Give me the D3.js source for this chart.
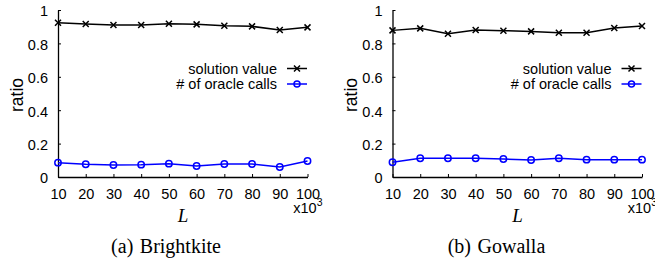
<!DOCTYPE html>
<html><head><meta charset="utf-8">
<script src="https://cdn.jsdelivr.net/npm/d3@7"></script>
<style>body{margin:0;background:#fff}svg{display:block}</style>
</head><body>
<svg id="c" width="655" height="263"></svg>
<script>
const Ls = [10, 20, 30, 40, 50, 60, 70, 80, 90, 100];
const yTicks = [0, 0.2, 0.4, 0.6, 0.8, 1];
const captions = ["(a) Brightkite", "(b) Gowalla"];
const seriesNames = ["solution value", "# of oracle calls"];
const brightkiteSolution = [0.924, 0.916, 0.91, 0.91, 0.918, 0.914, 0.906, 0.902, 0.88, 0.896];
const brightkiteOracle = [0.086, 0.076, 0.072, 0.074, 0.08, 0.066, 0.078, 0.078, 0.06, 0.096];
const gowallaSolution = [0.878, 0.89, 0.858, 0.88, 0.876, 0.872, 0.864, 0.864, 0.892, 0.904];
const gowallaOracle = [0.088, 0.112, 0.112, 0.112, 0.108, 0.102, 0.112, 0.104, 0.104, 0.104];

const svg = d3.select("#c");
const sans = "'Liberation Sans', Arial, Helvetica, sans-serif";
const serif = "'Liberation Serif', 'Times New Roman', serif";

function panel(x0, sol, ora, caption, capX) {
  const g = svg.append("g").attr("transform", `translate(${x0},0)`);
  const x = d3.scaleLinear().domain([10, 100]).range([58, 307.5]);
  const y = d3.scaleLinear().domain([0, 1]).range([177, 10]);

  const ax = g.append("g").attr("transform", "translate(0,177)")
    .call(d3.axisBottom(x).tickValues(Ls).tickSize(-3).tickSizeOuter(0));
  const ay = g.append("g").attr("transform", "translate(58,0)")
    .call(d3.axisLeft(y).tickValues(yTicks).tickSize(-3).tickPadding(10).tickSizeOuter(0)
      .tickFormat(d => d === 0 || d === 1 ? String(d) : d3.format(".1f")(d)));
  [ax, ay].forEach(a => {
    a.select(".domain").attr("stroke", "#000").attr("stroke-width", 1.3);
    a.selectAll(".tick line").attr("stroke", "#000").attr("stroke-width", 1);
    a.selectAll("text").attr("font-family", sans).attr("font-size", 14.5).attr("fill", "#000");
  });
  ax.selectAll("text").attr("y", 22.3).attr("dy", 0);
  ay.selectAll("text").attr("dy", "0.4em");

  g.append("text").attr("transform", "translate(22.5,95) rotate(-90)")
    .attr("text-anchor", "middle").attr("font-family", sans).attr("font-size", 17.5).text("ratio");
  g.append("text").attr("x", 183).attr("y", 221.7).attr("text-anchor", "middle")
    .attr("font-family", serif).attr("font-style", "italic").attr("font-size", 19).text("L");
  const m = g.append("text").attr("x", 293.3).attr("y", 212.7).attr("font-family", sans).attr("font-size", 14.5);
  m.append("tspan").text("x10");
  m.append("tspan").attr("dy", -6.7).attr("font-size", 10.5).text("3");
  g.append("text").attr("x", capX).attr("y", 253).attr("text-anchor", "middle")
    .attr("font-family", serif).attr("font-size", 20).attr("word-spacing", 1.5).text(caption);

  const line = d3.line().x((d, i) => x(Ls[i])).y(d => y(d));
  const cross = (sel, cx, cy) => {
    const s = 3;
    sel.append("path").attr("d", `M${cx - s},${cy - s}L${cx + s},${cy + s}M${cx - s},${cy + s}L${cx + s},${cy - s}`)
      .attr("stroke", "#000").attr("stroke-width", 1.5);
  };
  g.append("path").datum(sol).attr("d", line).attr("fill", "none").attr("stroke", "#000").attr("stroke-width", 1.5);
  sol.forEach((d, i) => cross(g, x(Ls[i]), y(d)));
  g.append("path").datum(ora).attr("d", line).attr("fill", "none").attr("stroke", "#0000ff").attr("stroke-width", 1.5);
  g.selectAll("circle.o").data(ora).enter().append("circle").attr("class", "o")
    .attr("cx", (d, i) => x(Ls[i])).attr("cy", d => y(d)).attr("r", 3.2)
    .attr("fill", "none").attr("stroke", "#0000ff").attr("stroke-width", 1.5);

  const ly = [68.5, 84];
  seriesNames.forEach((n, k) => {
    g.append("text").attr("x", 277).attr("y", ly[k]).attr("dy", "0.36em").attr("text-anchor", "end")
      .attr("font-family", sans).attr("font-size", 14.5).text(n);
    const col = k === 0 ? "#000" : "#0000ff";
    g.append("line").attr("x1", 287).attr("x2", 307).attr("y1", ly[k]).attr("y2", ly[k])
      .attr("stroke", col).attr("stroke-width", 1.5);
    if (k === 0) cross(g, 297, ly[k]);
    else g.append("circle").attr("cx", 297).attr("cy", ly[k]).attr("r", 3)
      .attr("fill", "none").attr("stroke", col).attr("stroke-width", 1.5);
  });
}
panel(0, brightkiteSolution, brightkiteOracle, captions[0], 166);
panel(334.5, gowallaSolution, gowallaOracle, captions[1], 162);
</script>
</body></html>
